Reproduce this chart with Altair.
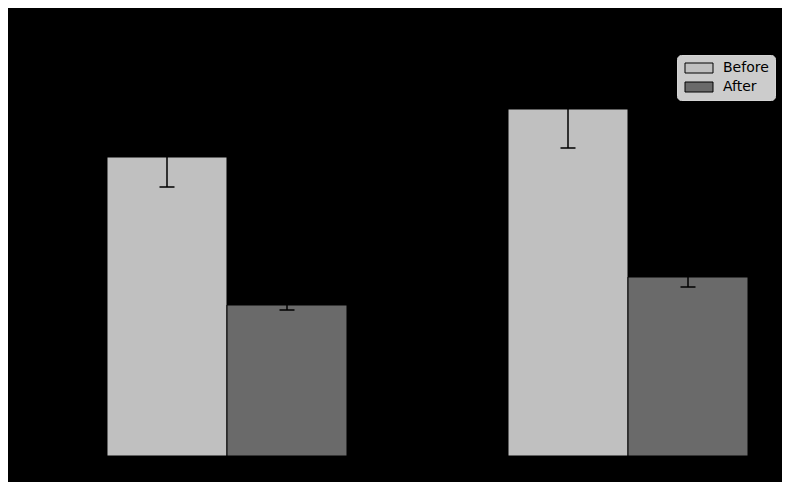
import pandas as pd
import altair as alt

groups = ["Group 1", "Group 2"]
series = ["Before", "After"]
before_means = [74.75, 86.75]
before_errs = [7.5, 9.75]
after_means = [37.75, 44.75]
after_errs = [1.25, 2.5]
colors = ["#c0c0c0", "#6a6a6a"]

rows = []
for i, g in enumerate(groups):
    rows.append({"group": g, "series": "Before", "mean": before_means[i], "err": before_errs[i]})
    rows.append({"group": g, "series": "After", "mean": after_means[i], "err": after_errs[i]})
df = pd.DataFrame(rows)

# matplotlib-style axes: everything black, so it disappears on the black background
x_axis = alt.Axis(labelAngle=0, labelColor="black", domainColor="black", tickColor="black",
                  labelFont="DejaVu Sans", labelFontSize=13)
y_axis = alt.Axis(labelColor="black", domainColor="black", tickColor="black", grid=False,
                  labelFont="DejaVu Sans", labelFontSize=13)

base = alt.Chart(df).transform_calculate(
    lo="datum.mean - datum.err",
    hi="datum.mean + datum.err",
).encode(
    x=alt.X("group:N", sort=groups, title=None, axis=x_axis,
            scale=alt.Scale(paddingInner=0.4015, paddingOuter=0.0798)),
    xOffset=alt.XOffset("series:N", sort=series,
                        scale=alt.Scale(domain=series, paddingInner=0, paddingOuter=0)),
)

yscale = alt.Scale(domain=[0, 102], nice=False, zero=True)

bars = base.mark_bar(stroke="black", strokeWidth=1).encode(
    y=alt.Y("mean:Q", scale=yscale, axis=y_axis, title=None),
    color=alt.Color("series:N", sort=series,
                    scale=alt.Scale(domain=series, range=colors),
                    legend=alt.Legend(
                        title=None, orient="none", legendX=602, legendY=7,
                        symbolType="M-1,-1L4.6,-1L4.6,1L-1,1Z", symbolSize=100,
                        symbolStrokeColor="black", symbolStrokeWidth=1, symbolOpacity=1,
                        labelFont="DejaVu Sans", labelFontSize=14, labelColor="black",
                        labelOffset=26, fillColor="#cccccc", strokeColor="#d4d4d4",
                        cornerRadius=4, padding=6, rowPadding=5)),
)

err_line = base.mark_rule(color="black", strokeWidth=1.5).encode(
    y=alt.Y("lo:Q", scale=yscale), y2="hi:Q")
cap_lo = base.mark_tick(color="black", thickness=1.5, size=15, opacity=1).encode(
    y=alt.Y("lo:Q", scale=yscale))
cap_hi = base.mark_tick(color="black", thickness=1.5, size=15, opacity=1).encode(
    y=alt.Y("hi:Q", scale=yscale))

chart = alt.layer(bars, err_line, cap_lo, cap_hi).properties(
    width=705, height=408,
    autosize=alt.AutoSizeParams(type="none"),
    padding={"left": 67, "top": 40, "right": 2, "bottom": 26},
    background="black",
).configure_view(stroke="black")

chart.save("out.html", embed_options={"renderer": "svg", "actions": False})
